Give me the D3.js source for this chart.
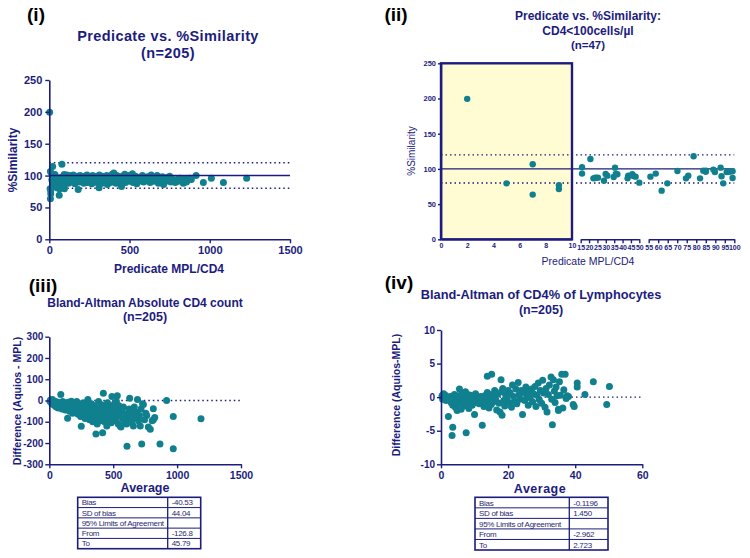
<!DOCTYPE html>
<html><head><meta charset="utf-8">
<script src="https://cdn.jsdelivr.net/npm/d3@7"></script>
<style>body{margin:0;background:#fff} svg{display:block;font-family:"Liberation Sans",Arial,sans-serif}</style>
</head><body><svg width="750" height="558"></svg>
<script>
// ---------- DATA ----------
// Panel (ii): CD4 < 100 cells/µl  [predicate CD4, % similarity]
const lowCD4 = [
 [2,199.5],[5,79.5],[7,106.5],[7,63.5],[9,77],[9,71.5],
 [15.8,102.3],[15.8,93.3],[20.8,114.1],[22.6,86.6],[24.1,87.6],[25.3,87.6],[28.9,83.3],[29.9,92.8],
 [30.9,90.4],[35.5,101.8],[34.7,88.5],[36.9,92.3],[43,86.6],[43.4,90.4],[45.8,92.3],[47.8,89],[50,80.5],
 [23.5,87],[36,93],[46.5,90],
 [55.9,89],[58.7,93.3],[61.8,69.1],[64.8,79.5],[70.1,97.1],[74.6,86.6],[75.8,90.4],[78.6,117.9],
 [82,86.6],[83.7,97.5],[85.1,97.5],[89,99],[89.8,95.6],[92.8,101.8],[93.3,89.5],[94.2,79.5],
 [96,95.6],[99.1,96.6],[99.1,87.1],[85,96],[97.5,96]
];
// Panel (i): remaining samples with CD4 >= 100
const highCD4 = [
 [105,96],[110,101],[115,92],[120,88],[125,98],[130,94],[135,100],[140,90],[145,96],[150,101],[155,93],[160,87],[165,97],[170,92],[175,99],[180,78],[182,95],[188,90],[192,100],[196,94],
 [205,97],[210,91],[215,88],[220,99],[225,95],[230,93],[235,101],[240,89],[245,96],[250,92],[255,98],[260,94],[265,87],[270,100],[275,95],[280,91],[285,97],[290,93],[295,89],[298,99],
 [305,96],[310,81],[312,101],[318,92],[322,95],[328,88],[332,99],[338,94],[342,90],[348,97],[352,93],[358,100],[362,86],[368,96],[372,92],[378,98],[382,89],[388,95],[392,102],[398,91],
 [402,104],[406,97],[410,93],[415,88],[420,100],[425,95],[430,91],[435,98],[440,94],[445,86],[450,83],[455,99],[460,96],[465,92],[470,102],[475,89],[480,97],[485,93],[490,100],[495,95],
 [502,91],[508,98],[512,94],[518,103],[522,89],[528,96],[532,92],[538,99],[545,87],[550,95],[558,91],[565,97],[572,93],[580,100],[588,90],[595,96],
 [605,92],[612,98],[620,94],[628,89],[635,101],[642,95],[650,91],[658,97],[665,93],[672,100],[680,88],[688,96],[695,92],
 [705,98],[712,86],[720,94],[728,91],[735,97],[742,93],[750,99],[758,90],[765,95],[775,92],[785,89],[795,94],
 [805,91],[815,96],[825,93],[835,88],[845,95],[855,90],[865,93],[875,96],[885,94],[915,100],
 [960,89],[1010,96],[1085,89],[1230,96]
];
// Panel (iii): Bland-Altman absolute CD4 [average, difference]
const absBA = [
 [5,-3],[10,2],[15,-8],[20,-15],[25,5],[30,-2],[35,-20],[40,-10],[45,-25],[50,-5],[55,-30],[60,-12],[65,-18],[70,-35],[75,-8],[80,-22],[85,-28],[90,28],[95,-15],[100,-40],
 [105,-5],[110,-20],[115,-32],[120,-10],[125,-45],[130,-25],[135,-15],[140,-38],[143,-83],[148,-8],[152,-30],[158,-50],[162,-18],[168,-42],[172,-3],[178,-28],[182,-60],[188,-35],[192,-12],[198,-48],
 [205,-22],[210,-55],[215,-5],[220,-38],[225,-65],[230,-30],[235,-15],[240,-50],[245,-75],[250,-121],[255,-40],[260,-25],[265,-60],[270,-10],[275,-45],[280,-85],[285,-35],[290,-55],[295,-20],[298,-70],
 [302,5],[306,-40],[310,-60],[315,-90],[320,-30],[325,-50],[330,-15],[335,-75],[340,-100],[345,-45],[350,-25],[355,-65],[360,-85],[365,-157],[370,-35],[375,-110],[380,-55],[385,-5],[390,-80],[395,-95],
 [402,-40],[406,-60],[410,-20],[417,-152],[423,34],[428,-70],[432,-100],[436,-50],[440,-30],[445,-85],[450,-120],[455,-10],[460,-65],[465,-45],[470,-90],[475,-25],[480,-75],[485,-105],[490,19],[495,-55],
 [502,-35],[506,-80],[510,-15],[515,-60],[520,-95],[525,-5],[532,22],[536,-45],[540,-110],[545,-25],[550,-70],[555,-120],[561,-125],[566,-50],[572,-85],[580,-30],[590,-100],[600,-75],
 [605,-110],[608,-215],[612,-60],[618,-90],[625,-40],[629,11],[632,-47],[638,-80],[645,-100],[650,-65],[658,-120],[665,-30],[672,-85],[680,-55],[690,5],[698,-95],
 [705,-70],[712,-120],[718,-40],[723,-204],[730,-15],[736,-19],[745,-90],[755,-60],[762,-70],[775,-125],[790,-135],
 [805,-95],[814,-39],[814,-91],[825,-80],[866,-204],[918,0],[970,-75],[970,-227],[1187,-86]
];
// Panel (iv): Bland-Altman CD4% [average, difference]
const pctBA = [
 [0.3,0.2],[0.5,-0.3],[0.8,0.5],[1.0,-0.1],[1.3,0.3],[1.5,-0.5],[1.8,0],[2.0,-0.3],[2.2,-2.9],[2.5,-0.2],[2.8,0.1],[3.0,-0.8],[3.3,-5.7],[3.5,-4.5],[3.5,-1.2],[3.8,-0.4],[4.0,0.4],[4.3,-1.5],[4.5,-0.6],[4.8,-2.0],[5.0,0.2],
 [5.3,-0.9],[5.5,1.2],[5.8,-0.3],[6.0,-1.8],[6.3,0.5],[6.5,-0.7],[6.8,-1.3],[7.0,0.1],[7.3,0.8],[7.5,-5.3],[7.5,-0.5],[7.8,-1.0],[8.0,0.4],[8.3,-1.7],[8.5,-0.2],[8.8,0.3],[9.0,-0.8],[9.3,-1.2],[9.5,0],[9.8,-0.5],[10.0,-2.6],
 [10.3,0.5],[10.6,-0.8],[11,-0.2],[11.4,-1.0],[11.8,0.1],[12.3,-4.2],[12.5,-0.6],[12.8,-1.4],[13.0,0.2],[13.3,-0.9],[13.8,3.1],[13.8,0.7],[14.0,-0.4],[14.3,-1.6],[14.6,0.4],[15.1,3.4],[15,-1.1],
 [15.4,0.1],[15.7,-0.7],[16.0,1.0],[16.3,-0.3],[16.6,-1.9],[17.0,0.5],[17.3,-0.9],[17.6,-2.2],[17.9,2.6],[18.0,0.8],[18.2,-2.7],[18.4,1.3],[18.7,-0.5],[19.0,-1.3],[19.3,0.3],[19.6,-0.2],[20,1.0],
 [20.3,-0.8],[20.6,0.6],[21,-1.5],[21.3,1.8],[21.6,0.1],[22,-0.6],[22.3,1.2],[22.6,-1.0],[23,2.2],[23.3,0.4],[23.6,-0.3],[24,1.0],[24.3,-2.6],[24.6,0.7],[25,-0.5],[25.3,1.5],
 [25.6,0.2],[26,-1.2],[26.3,0.9],[26.6,-0.1],[27,1.2],[27.3,-0.7],[27.6,0.5],[28,1.6],[28.3,-1.4],[28.6,0.3],[29,2.1],[29.3,-0.4],[29.6,1.0],[30,-0.9],[30.3,2.5],[30.6,0.6],
 [31,-1.5],[31.3,1.3],[31.6,-2.2],[32,0.4],[32.3,1.8],[32.8,3.0],[33,-0.3],[33.2,-4.1],[33.5,2.6],[33.8,0.9],[34,-0.8],[34.3,1.5],[34.6,0.2],[35,-1.8],[35,-2.0],[35.3,2.3],
 [35.6,0.3],[36,3.4],[36.3,-1.6],[36.6,1.1],[37,3.4],[37.3,-0.2],[37.6,0.2],[38,0.1],[39.4,-1.1],[39.7,-1.4],
 [40.6,2.1],[40.6,1.5],[42.9,0.4],[45.4,2.3],[49.4,-1.1],[50.2,1.6]
];
const absTable = [["Bias","-40.53"],["SD of bias","44.04"],["95% Limits of Agreement",""],["From","-126.8"],["To","45.79"]];
const pctTable = [["Bias","-0.1196"],["SD of bias","1.450"],["95% Limits of Agreement",""],["From","-2.962"],["To","2.723"]];
const simTicks = [0,50,100,150,200,250];
const cd4Ticks = [0,500,1000,1500];
const absDiffTicks = [-300,-200,-100,0,100,200,300];
const pctAvgTicks = [0,20,40,60];
const pctDiffTicks = [-10,-5,0,5,10];
const seg1Ticks = [0,2,4,6,8,10];
const seg2Ticks = [15,20,25,30,35,40,45,50];
const seg3Ticks = [55,60,65,70,75,80,85,90,95,100];
const simRef = {mid:100, lo:80, hi:120};

// ---------- STYLE ----------
const NAVY = "#1c1c7e", TEAL = "#10808f", FONT = "'Liberation Sans',Arial,sans-serif";
const svg = d3.select("svg");
const plain = d => String(d);

function styleAxis(g, fs, bold=true){
  g.attr("font-family", FONT).attr("font-size", fs);
  g.selectAll(".domain").attr("stroke", NAVY).attr("stroke-width", 1.6);
  g.selectAll(".tick line").attr("stroke", NAVY).attr("stroke-width", 1.4);
  g.selectAll(".tick text").attr("fill", NAVY).attr("font-weight", bold ? "bold" : "normal");
}
function text(x, y, s, o={}){
  const t = svg.append("text").attr("x", x).attr("y", y).text(s)
    .attr("font-family", FONT).attr("font-size", o.size||12).attr("font-weight", o.weight||"bold")
    .attr("fill", o.fill||NAVY).attr("text-anchor", o.anchor||"middle");
  if (o.ls) t.attr("letter-spacing", o.ls);
  if (o.rot) t.attr("transform", `rotate(-90,${x},${y})`);
  return t;
}
function dots(data, x, y, r=3.5){
  svg.append("g").selectAll("circle").data(data).join("circle")
    .attr("cx", d=>x(d[0])).attr("cy", d=>y(d[1])).attr("r", r).attr("fill", TEAL);
}
function hline(x0, x1, yv, dotted, w=1.5){
  const l = svg.append("line").attr("x1", x0).attr("x2", x1).attr("y1", yv).attr("y2", yv)
    .attr("stroke", NAVY).attr("stroke-width", w);
  if (dotted) l.attr("stroke-dasharray", "1.5,3");
}
function table(rows, x0, x1, xd, y0, y1){
  const g = svg.append("g");
  const rh = (y1 - y0) / rows.length;
  rows.forEach((r,i)=>{
    if (i>0) g.append("line").attr("x1",x0).attr("x2",x1).attr("y1",y0+i*rh).attr("y2",y0+i*rh).attr("stroke",NAVY).attr("stroke-width",1);
    g.append("text").attr("x",x0+4).attr("y",y0+i*rh+rh*0.78).text(r[0]).attr("font-family",FONT).attr("font-size",8).attr("fill","#2a2a70").attr("letter-spacing","-0.3");
    g.append("text").attr("x",xd+4).attr("y",y0+i*rh+rh*0.78).text(r[1]).attr("font-family",FONT).attr("font-size",8).attr("fill","#2a2a70").attr("letter-spacing","-0.3");
  });
  g.append("line").attr("x1",xd).attr("x2",xd).attr("y1",y0).attr("y2",y1).attr("stroke",NAVY).attr("stroke-width",1.3);
  g.append("rect").attr("x",x0).attr("y",y0).attr("width",x1-x0).attr("height",y1-y0).attr("fill","none").attr("stroke",NAVY).attr("stroke-width",1.6);
}

// ---------- PANEL (i) ----------
{
  const x = d3.scaleLinear().domain([0,1500]).range([49.3,290]);
  const y = d3.scaleLinear().domain([0,250]).range([239.3,80]);
  hline(x(0), x(1500), y(simRef.hi), true);
  hline(x(0), x(1500), y(simRef.lo), true);
  dots(lowCD4.concat(highCD4), x, y);
  hline(x(0), x(1500), y(simRef.mid), false);
  styleAxis(svg.append("g").attr("transform","translate(0,239.3)").call(d3.axisBottom(x).tickValues(cd4Ticks).tickFormat(plain).tickSize(4).tickPadding(3).tickSizeOuter(0)), 11);
  styleAxis(svg.append("g").attr("transform","translate(49.3,0)").call(d3.axisLeft(y).tickValues(simTicks).tickFormat(plain).tickSize(4).tickPadding(3).tickSizeOuter(0)), 11);
  text(36, 21, "(i)", {size:19, fill:"#000", anchor:"middle"});
  text(168, 41, "Predicate vs. %Similarity", {size:14.5, ls:0.4});
  text(168, 58, "(n=205)", {size:14.5, ls:0.4});
  text(169, 273, "Predicate MPL/CD4", {size:12});
  text(17, 160, "%Similarity", {size:12, rot:true});
}

// ---------- PANEL (ii) ----------
{
  const x = d3.scaleLinear().domain([0,10,15,50,55,100]).range([441,572,580.7,639.3,648.7,734.3]);
  const y = d3.scaleLinear().domain([0,250]).range([239.3,63.3]);
  svg.append("rect").attr("x",x(0)).attr("y",y(250)).attr("width",x(10)-x(0)).attr("height",y(0)-y(250))
    .attr("fill","#fffbd2");
  hline(x(0), x(100), y(simRef.hi), true, 1.3);
  hline(x(0), x(100), y(simRef.lo), true, 1.3);
  hline(x(0), x(100), y(simRef.mid), false, 1.4);
  dots(lowCD4, x, y, 3.2);
  const s1 = d3.scaleLinear().domain([0,10]).range([x(0),x(10)]);
  const s2 = d3.scaleLinear().domain([15,50]).range([x(15),x(50)]);
  const s3 = d3.scaleLinear().domain([55,100]).range([x(55),x(100)]);
  styleAxis(svg.append("g").attr("transform","translate(0,239.3)").call(d3.axisBottom(s1).tickValues(seg1Ticks).tickFormat(plain).tickSize(0).tickPadding(4).tickSizeOuter(0)), 7);
  styleAxis(svg.append("g").attr("transform","translate(0,239.3)").call(d3.axisBottom(s2).tickValues(seg2Ticks).tickFormat(plain).tickSize(4).tickPadding(1.5).tickSizeOuter(0)), 7);
  styleAxis(svg.append("g").attr("transform","translate(0,239.3)").call(d3.axisBottom(s3).tickValues(seg3Ticks).tickFormat(plain).tickSize(4).tickPadding(1.5).tickSizeOuter(0)), 7);
  styleAxis(svg.append("g").attr("transform",`translate(${x(0)},0)`).call(d3.axisLeft(y).tickValues(simTicks).tickFormat(plain).tickSize(3).tickPadding(2).tickSizeOuter(0)), 7.5);
  svg.append("rect").attr("x",x(0)).attr("y",y(250)).attr("width",x(10)-x(0)).attr("height",y(0)-y(250))
    .attr("fill","none").attr("stroke",NAVY).attr("stroke-width",2.4);
  text(396, 21, "(ii)", {size:19, fill:"#000"});
  text(588, 20, "Predicate vs. %Similarity:", {size:12});
  text(588, 35, "CD4<100cells/µl", {size:12});
  text(588, 48.5, "(n=47)", {size:11.5});
  text(588, 265, "Predicate MPL/CD4", {size:10.5, weight:"normal"});
  text(415, 151, "%Similarity", {size:10, weight:"normal", rot:true});
}

// ---------- PANEL (iii) ----------
{
  const x = d3.scaleLinear().domain([0,1500]).range([49.3,241]);
  const y = d3.scaleLinear().domain([-300,300]).range([464.3,336.7]);
  hline(x(0), x(1500), y(0), true, 1.3);
  dots(absBA, x, y);
  styleAxis(svg.append("g").attr("transform","translate(0,464.3)").call(d3.axisBottom(x).tickValues(cd4Ticks).tickFormat(plain).tickSize(4).tickPadding(3).tickSizeOuter(0)), 10.5);
  styleAxis(svg.append("g").attr("transform","translate(49.3,0)").call(d3.axisLeft(y).tickValues(absDiffTicks).tickFormat(plain).tickSize(4).tickPadding(2).tickSizeOuter(0)), 10);
  text(43, 292, "(iii)", {size:19, fill:"#000"});
  text(145, 306.5, "Bland-Altman Absolute CD4 count", {size:12});
  text(145, 320.5, "(n=205)", {size:12.5});
  text(145, 491.5, "Average", {size:12.5});
  text(21, 401, "Difference (Aquios - MPL)", {size:10.5, rot:true});
  table(absTable, 77.7, 200.7, 167.7, 497.3, 548.7);
}

// ---------- PANEL (iv) ----------
{
  const x = d3.scaleLinear().domain([0,60]).range([441,642.3]);
  const y = d3.scaleLinear().domain([-10,10]).range([464.3,330]);
  hline(x(0), x(60), y(0), true, 1.3);
  dots(pctBA, x, y);
  styleAxis(svg.append("g").attr("transform","translate(0,464.3)").call(d3.axisBottom(x).tickValues(pctAvgTicks).tickFormat(plain).tickSize(4).tickPadding(3).tickSizeOuter(0)), 10.5);
  styleAxis(svg.append("g").attr("transform","translate(441,0)").call(d3.axisLeft(y).tickValues(pctDiffTicks).tickFormat(plain).tickSize(4).tickPadding(2).tickSizeOuter(0)), 10);
  text(399, 289, "(iv)", {size:19, fill:"#000"});
  text(541, 299, "Bland-Altman of CD4% of Lymphocytes", {size:12.8});
  text(541, 314, "(n=205)", {size:12.5});
  text(540, 493, "Average", {size:12.5, ls:0.5});
  text(400, 395, "Difference (Aquios-MPL)", {size:10.5, rot:true});
  table(pctTable, 475, 608, 569.3, 497.3, 550);
}
</script></body></html>
